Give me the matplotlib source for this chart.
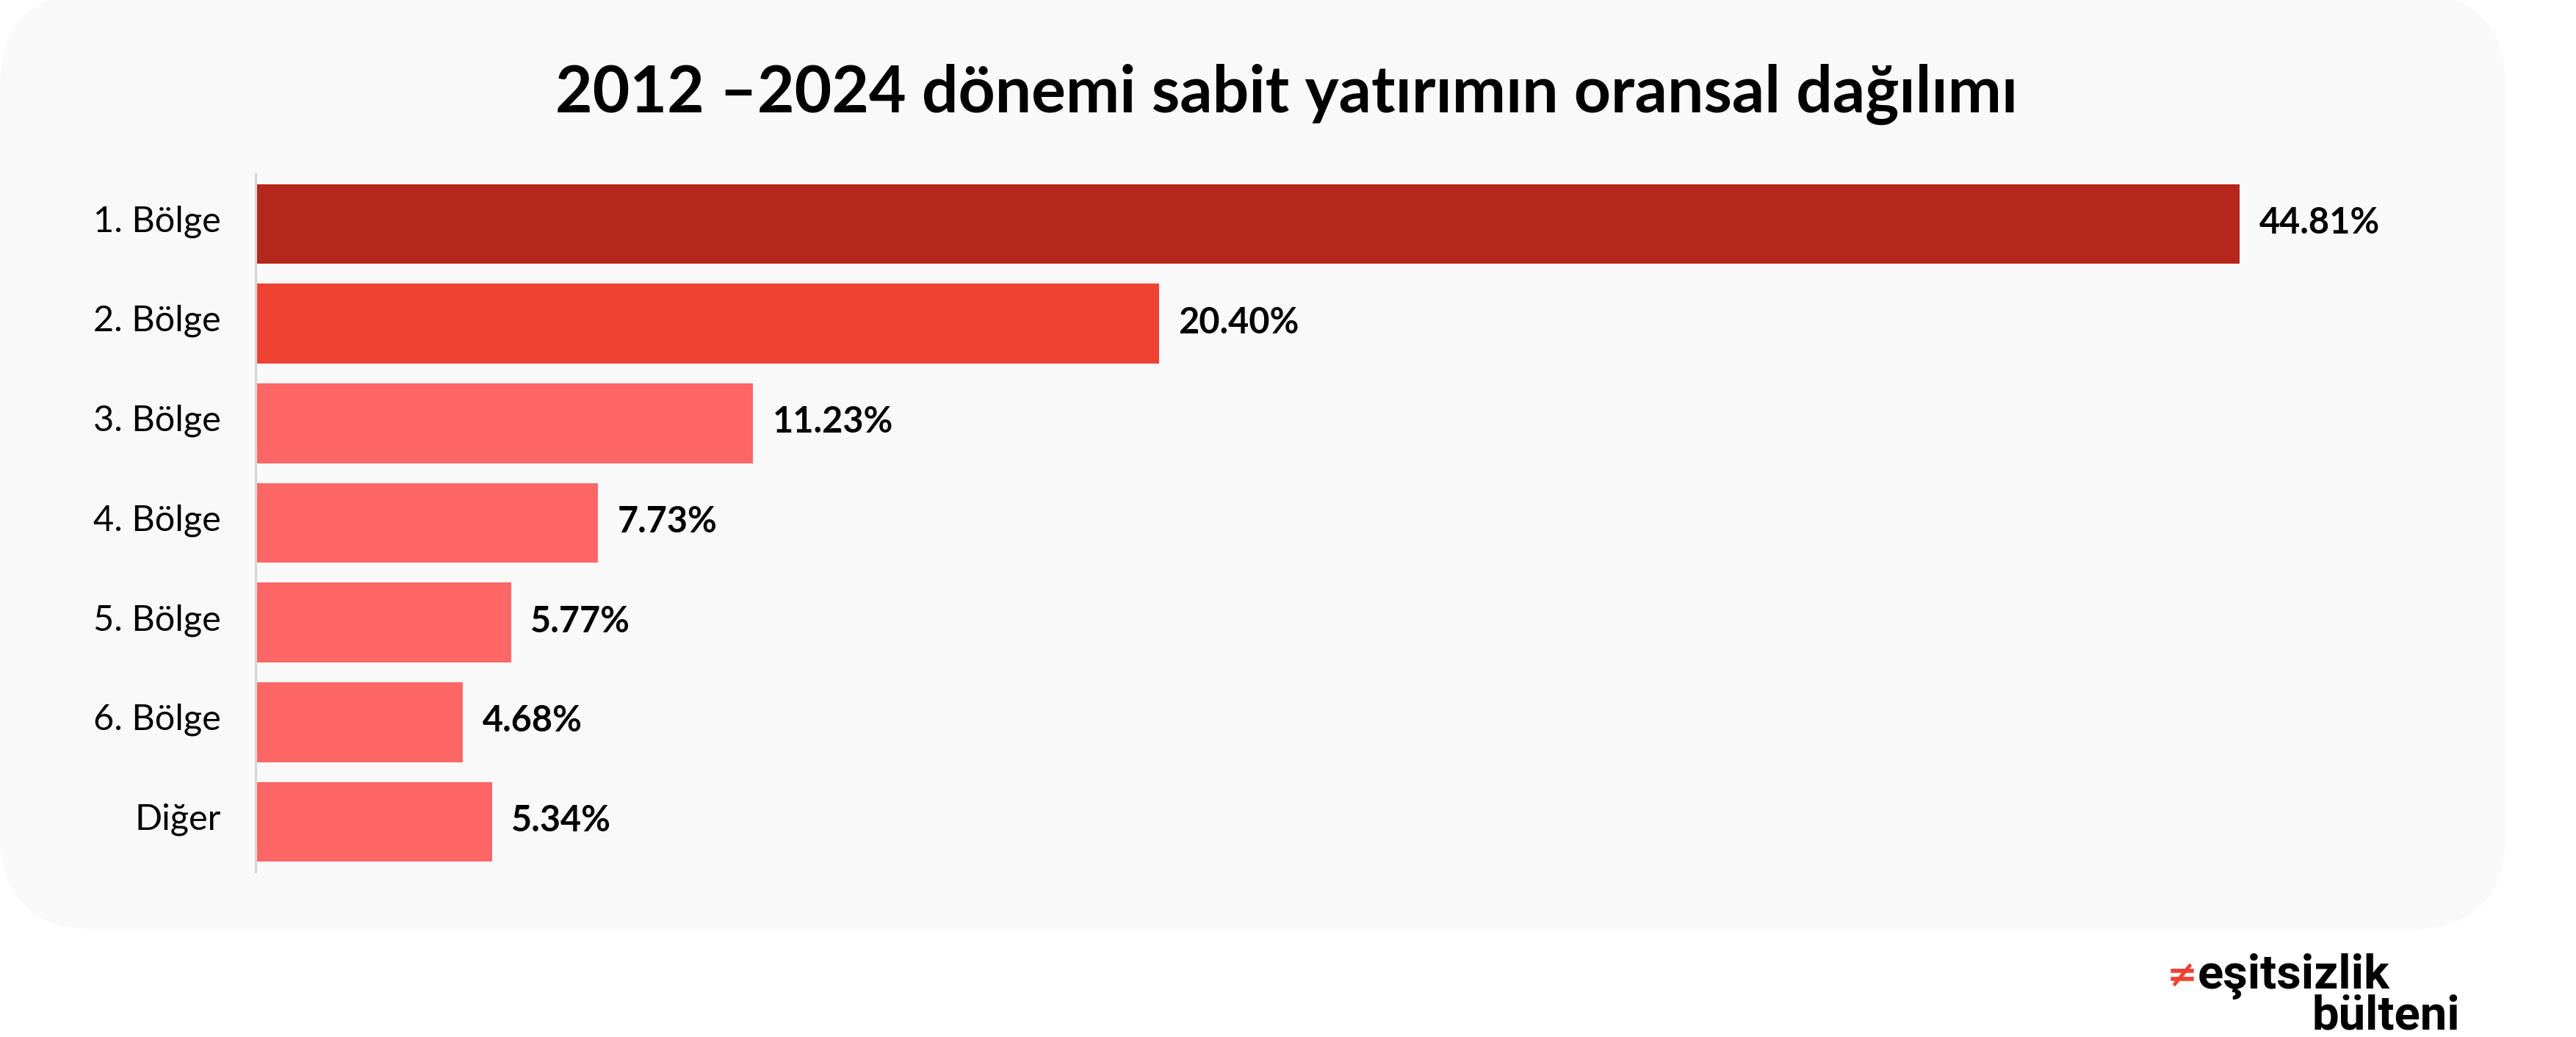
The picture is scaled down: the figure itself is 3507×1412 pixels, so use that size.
import matplotlib
matplotlib.use("Agg")
import matplotlib.pyplot as plt
from matplotlib.patches import FancyBboxPatch

# data
categories = ["1. Bölge", "2. Bölge", "3. Bölge", "4. Bölge", "5. Bölge", "6. Bölge", "Diğer"]
shares = [44.81, 20.40, 11.23, 7.73, 5.77, 4.68, 5.34]
value_labels = ["44.81%", "20.40%", "11.23%", "7.73%", "5.77%", "4.68%", "5.34%"]
bar_colors = ["#b5261b", "#ef4233", "#ff6666", "#ff6666", "#ff6666", "#ff6666", "#ff6666"]
title = "2012 –2024 dönemi sabit yatırımın oransal dağılımı"

W, H = 3507, 1412
fig = plt.figure(figsize=(W / 100, H / 100), dpi=100, facecolor="white")

# rounded grey panel behind the chart
panel_bottom = (H - 1265) / 100
panel = FancyBboxPatch((0, panel_bottom), 34.11, 14.22 - panel_bottom,
                       boxstyle="round,pad=0,rounding_size=1.3",
                       transform=fig.dpi_scale_trans, facecolor="#f9f9f9",
                       edgecolor="none", zorder=-5)
fig.patches.append(panel)

ax = fig.add_axes([348 / W, 1 - 1187 / H, 50 * 60.28 / W, (1187 - 237) / H])
ax.set_facecolor("none")
ax.set_zorder(2)

ypos = list(range(len(categories)))
ax.barh(ypos, shares, height=0.8, color=bar_colors, zorder=2)
for y, v, lab in zip(ypos, shares, value_labels):
    ax.annotate(lab, (v, y), xytext=(19, -9.4), textcoords="offset points",
                va="baseline", ha="left", fontsize=35, fontweight="bold",
                family="Lato", color="black")
# category labels, placed by hand so their baselines match the reference
for y, cat in zip(ypos, categories):
    ax.annotate(cat, (0, y), xytext=(-34, -7.5), textcoords="offset points",
                va="baseline", ha="right", fontsize=35, family="Lato",
                color="black", annotation_clip=False)

ax.set_xlim(0, 50)
ax.set_ylim(6.5, -0.5)
ax.set_yticks([])
ax.set_xticks([])
for s in ["top", "right", "bottom"]:
    ax.spines[s].set_visible(False)
ax.spines["left"].set_color("#d6d6d6")
ax.spines["left"].set_linewidth(2.2)

fig.text(1752 / W, 1 - 128 / H, title, ha="center", va="center",
         fontsize=63, fontweight="bold", family="Lato", color="black")

# logo
fig.text(2992 / W, 1 - 1346 / H, "eşitsizlik", ha="left", va="baseline",
         fontsize=47, fontweight="bold", family="Roboto", color="black")
fig.text(2950 / W, 1 - 1343 / H, "≠", ha="left", va="baseline",
         fontsize=36, fontweight="bold", family="DejaVu Sans", color="#ef4233")
fig.text(3349 / W, 1 - 1401 / H, "bülteni", ha="right", va="baseline",
         fontsize=47, fontweight="bold", family="Roboto", color="black")

fig.savefig("out.png", dpi=100, facecolor="white")
